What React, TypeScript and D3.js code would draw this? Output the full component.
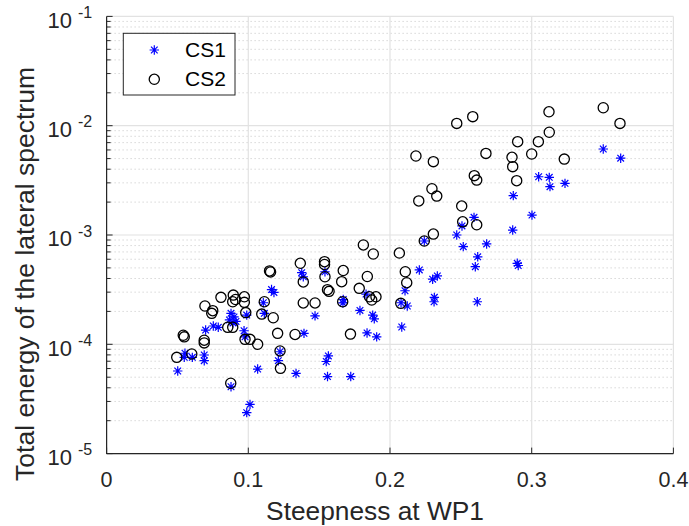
import React from "react";
import * as d3 from "d3";

// Steepness at WP1 vs. total energy of the lateral spectrum, two cases
const cs1X = [
  0.0502, 0.0553, 0.0548, 0.0605, 0.0689, 0.0689, 0.0699, 0.0753, 0.0788, 0.0878,
  0.0899, 0.0867, 0.0913, 0.0892, 0.0878, 0.097, 0.0977, 0.0989, 0.1012, 0.0989,
  0.1066, 0.1106, 0.1113, 0.1164, 0.1181, 0.1224, 0.1212, 0.1337, 0.1377, 0.1388,
  0.1393, 0.1471, 0.1541, 0.1565, 0.155, 0.1559, 0.167, 0.1668, 0.1723, 0.1788,
  0.1831, 0.1878, 0.1889, 0.1838, 0.1906, 0.2078, 0.2106, 0.2083, 0.2122, 0.2207,
  0.2242, 0.2301, 0.2334, 0.2313, 0.2311, 0.2471, 0.2508, 0.2593, 0.2517, 0.2682,
  0.2619, 0.2602, 0.2616, 0.2866, 0.287, 0.2898, 0.2905, 0.3002, 0.3049, 0.3124,
  0.3129, 0.3235, 0.3505, 0.3628,
];
const cs1Y = [
  5.7e-5, 8.28e-5, 7.6e-5, 7.6e-5, 7.98e-5, 7.08e-5, 1.35e-4, 1.47e-4, 1.43e-4, 1.92e-4,
  1.78e-4, 1.67e-4, 1.62e-4, 1.57e-4, 4.09e-5, 1.33e-4, 1.17e-4, 1.85e-4, 2.82e-5, 2.37e-5,
  5.94e-5, 2.4e-4, 1.92e-4, 3.17e-4, 2.98e-4, 8.55e-5, 7.08e-5, 5.41e-5, 4.52e-4, 4.15e-4,
  1.26e-4, 1.82e-4, 4.61e-4, 7.82e-5, 6.96e-5, 5.07e-5, 2.57e-4, 2.39e-4, 5.07e-5, 2.04e-4,
  2.88e-4, 1.85e-4, 1.71e-4, 1.27e-4, 1.17e-4, 2.4e-4, 3.09e-4, 1.44e-4, 2.24e-4, 4.79e-4,
  8.81e-4, 3.94e-4, 4.22e-4, 2.69e-4, 2.45e-4, 1.0e-3, 1.21e-3, 1.45e-3, 7.82e-4, 8.28e-4,
  6.32e-4, 5.13e-4, 2.45e-4, 1.11e-3, 2.29e-3, 5.51e-4, 5.26e-4, 1.52e-3, 3.41e-3, 3.37e-3,
  2.77e-3, 2.97e-3, 6.12e-3, 5.04e-3,
];

const cs2X = [
  0.0495, 0.0541, 0.0548, 0.0601, 0.0689, 0.0689, 0.0694, 0.0749, 0.0742, 0.0807,
  0.0894, 0.089, 0.091, 0.0972, 0.0972, 0.0982, 0.0855, 0.089, 0.0876, 0.0977,
  0.1012, 0.1066, 0.1095, 0.1113, 0.115, 0.1157, 0.1176, 0.1207, 0.1224, 0.1227,
  0.133, 0.1367, 0.1388, 0.1388, 0.1471, 0.1538, 0.1538, 0.1541, 0.1559, 0.157,
  0.167, 0.1659, 0.1666, 0.1721, 0.1783, 0.1812, 0.184, 0.1855, 0.1901, 0.1871,
  0.1882, 0.2066, 0.2076, 0.2108, 0.2118, 0.2183, 0.2203, 0.2242, 0.2296, 0.233,
  0.2306, 0.2306, 0.2471, 0.2506, 0.2513, 0.2584, 0.2595, 0.2612, 0.2612, 0.2677,
  0.2861, 0.2866, 0.2894, 0.2901, 0.3, 0.3047, 0.3122, 0.3124, 0.323, 0.3505,
  0.3623,
];
const cs2Y = [
  7.6e-5, 1.21e-4, 1.17e-4, 8.15e-5, 1.09e-4, 1.03e-4, 2.24e-4, 2.03e-4, 1.92e-4, 2.69e-4,
  2.82e-4, 2.45e-4, 2.57e-4, 2.72e-4, 2.42e-4, 1.95e-4, 1.43e-4, 1.43e-4, 4.4e-5, 1.11e-4,
  1.11e-4, 1.0e-4, 1.89e-4, 2.45e-4, 4.69e-4, 4.59e-4, 1.75e-4, 1.26e-4, 8.69e-5, 6.03e-5,
  1.23e-4, 5.51e-4, 3.72e-4, 2.39e-4, 2.39e-4, 5.7e-4, 5.37e-4, 4.15e-4, 3.16e-4, 3.05e-4,
  4.73e-4, 3.74e-4, 2.45e-4, 1.24e-4, 3.25e-4, 8.11e-4, 4.17e-4, 2.72e-4, 2.72e-4, 2.54e-4,
  6.7e-4, 6.84e-4, 2.37e-4, 4.61e-4, 3.66e-4, 5.28e-3, 2.05e-3, 8.81e-4, 2.65e-3, 2.27e-3,
  4.69e-3, 1.02e-3, 1.05e-2, 1.84e-3, 1.32e-3, 1.21e-2, 3.49e-3, 3.18e-3, 1.24e-3, 5.58e-3,
  5.14e-3, 4.22e-3, 3.14e-3, 7.14e-3, 5.51e-3, 7.14e-3, 1.34e-2, 8.71e-3, 4.95e-3, 1.46e-2,
  1.05e-2,
];

const xTicks = [0, 0.1, 0.2, 0.3, 0.4];
const xTickLabels = ["0", "0.1", "0.2", "0.3", "0.4"];
const yExponents = [-5, -4, -3, -2, -1];
const seriesNames = ["CS1", "CS2"];

const W = 689;
const H = 526;
const FONT = "'Liberation Sans', Arial, Helvetica, sans-serif";
const AXIS = "#262626";

const xScale = d3.scaleLinear().domain([0, 0.4]).range([106.6, 673.4]);
const yScale = d3.scaleLog().domain([1e-5, 1e-1]).range([453.6, 16.4]);

function starPath(r: number) {
  const d = r * 0.7071;
  return `M${-r},0H${r}M0,${-r}V${r}M${-d},${-d}L${d},${d}M${-d},${d}L${d},${-d}`;
}

const STAR = starPath(4.7);
const CIRCLE_R = 5.1;

export default function App() {
  const [x0, x1] = xScale.range();
  const [y0, y1] = yScale.range();

  // minor y values: 2..9 x 10^k
  const minorY: number[] = [];
  for (let k = -5; k < -1; k++) {
    for (let m = 2; m <= 9; m++) minorY.push(m * Math.pow(10, k));
  }

  return (
    <svg
      width={W}
      height={H}
      style={{ position: "absolute", left: 0, top: 0, background: "#fff" }}
      fontFamily={FONT}
    >
      <rect x={0} y={0} width={W} height={H} fill="#fff" />

      {/* minor grid */}
      {minorY.map((v, i) => (
        <line
          key={`mg${i}`}
          x1={x0}
          x2={x1}
          y1={yScale(v)}
          y2={yScale(v)}
          stroke="#c4c4c4"
          strokeWidth={1}
          strokeDasharray="1,3"
        />
      ))}
      {/* major grid */}
      {xTicks.map((t, i) => (
        <line key={`gx${i}`} x1={xScale(t)} x2={xScale(t)} y1={y0} y2={y1} stroke="#e2e2e2" strokeWidth={1.2} />
      ))}
      {yExponents.map((e, i) => (
        <line
          key={`gy${i}`}
          x1={x0}
          x2={x1}
          y1={yScale(Math.pow(10, e))}
          y2={yScale(Math.pow(10, e))}
          stroke="#e2e2e2"
          strokeWidth={1.2}
        />
      ))}

      {/* axes */}
      <line x1={x0} x2={x0} y1={y0 + 0.5} y2={y1} stroke={AXIS} strokeWidth={1.2} />
      <line x1={x0} x2={x1} y1={y0} y2={y0} stroke={AXIS} strokeWidth={1.2} />
      {xTicks.map((t, i) => (
        <line key={`tx${i}`} x1={xScale(t)} x2={xScale(t)} y1={y0} y2={y0 - 6} stroke={AXIS} strokeWidth={1} />
      ))}
      {yExponents.map((e, i) => (
        <line
          key={`ty${i}`}
          x1={x0}
          x2={x0 + 6}
          y1={yScale(Math.pow(10, e))}
          y2={yScale(Math.pow(10, e))}
          stroke={AXIS}
          strokeWidth={1}
        />
      ))}
      {minorY.map((v, i) => (
        <line key={`mt${i}`} x1={x0} x2={x0 + 4} y1={yScale(v)} y2={yScale(v)} stroke={AXIS} strokeWidth={1} />
      ))}

      {/* tick labels */}
      {xTicks.map((t, i) => (
        <text key={`lx${i}`} x={xScale(t)} y={486.7} textAnchor="middle" fontSize={21.5} fill={AXIS}>
          {xTickLabels[i]}
        </text>
      ))}
      {yExponents.map((e, i) => {
        const y = yScale(Math.pow(10, e));
        return (
          <g key={`ly${i}`} fill={AXIS}>
            <text x={72} y={y + 11.3} textAnchor="end" fontSize={22}>
              10
            </text>
            <text x={78} y={y + 1.5} fontSize={16}>
              {`-${Math.abs(e)}`}
            </text>
          </g>
        );
      })}

      {/* axis titles */}
      <text x={375} y={520} textAnchor="middle" fontSize={26.3} fill={AXIS}>
        Steepness at WP1
      </text>
      <text
        transform="translate(34,274) rotate(-90)"
        textAnchor="middle"
        fontSize={26.5}
        fill={AXIS}
      >
        Total energy of the lateral spectrum
      </text>

      {/* CS1 */}
      {cs1X.map((x, i) => (
        <path
          key={`s${i}`}
          d={STAR}
          transform={`translate(${xScale(x)},${yScale(cs1Y[i])})`}
          stroke="#0000ff"
          strokeWidth={1.2}
          fill="none"
        />
      ))}
      {/* CS2 */}
      {cs2X.map((x, i) => (
        <circle
          key={`c${i}`}
          cx={xScale(x)}
          cy={yScale(cs2Y[i])}
          r={CIRCLE_R}
          stroke="#000"
          strokeWidth={1.3}
          fill="none"
        />
      ))}

      {/* legend */}
      <rect x={123.3} y={33.3} width={111.7} height={61.7} fill="#fff" stroke={AXIS} strokeWidth={1} />
      <path d={STAR} transform="translate(154.3,50)" stroke="#0000ff" strokeWidth={1.2} fill="none" />
      <circle cx={154.3} cy={79.3} r={CIRCLE_R} stroke="#000" strokeWidth={1.3} fill="none" />
      <text x={185} y={56.8} fontSize={21} fill="#000">
        {seriesNames[0]}
      </text>
      <text x={185} y={85.5} fontSize={21} fill="#000">
        {seriesNames[1]}
      </text>
    </svg>
  );
}
